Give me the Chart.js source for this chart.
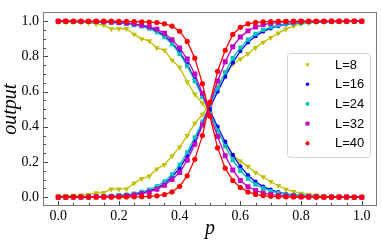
<!DOCTYPE html>
<html><head><meta charset="utf-8">
<script src="https://cdn.jsdelivr.net/npm/chart.js@4"></script>
<style>html,body{margin:0;padding:0;background:#fff;overflow:hidden}</style>
</head><body>
<canvas id="c" width="382" height="244"></canvas>
<script>
const pValues = [0,0.025,0.05,0.075,0.1,0.125,0.15,0.175,0.2,0.225,0.25,0.275,0.3,0.325,0.35,0.375,0.4,0.425,0.45,0.475,0.5,0.525,0.55,0.575,0.6,0.625,0.65,0.675,0.7,0.725,0.75,0.775,0.8,0.825,0.85,0.875,0.9,0.925,0.95,0.975,1.0];
const xTicks = [0,0.2,0.4,0.6,0.8,1.0];
const yTicks = [0,0.2,0.4,0.6,0.8,1.0];
const seriesLabels = ['L=8','L=16','L=24','L=32','L=40'];

const L8_dec = [0.995,0.995,0.994,0.993,0.990,0.985,0.978,0.956,0.958,0.957,0.925,0.900,0.888,0.848,0.835,0.778,0.738,0.655,0.585,0.535,0.470,0.375,0.300,0.240,0.205,0.175,0.140,0.115,0.088,0.065,0.045,0.032,0.022,0.015,0.011,0.008,0.006,0.005,0.004,0.003,0.003];
const L8_inc = [0.008,0.009,0.010,0.012,0.015,0.024,0.026,0.046,0.046,0.047,0.080,0.105,0.120,0.160,0.185,0.235,0.285,0.350,0.420,0.470,0.530,0.630,0.705,0.755,0.785,0.815,0.850,0.880,0.906,0.932,0.955,0.973,0.984,0.990,0.993,0.995,0.996,0.997,0.997,0.998,0.998];
const L16_dec = [0.999,0.999,0.999,0.998,0.998,0.997,0.995,0.993,0.990,0.987,0.982,0.975,0.963,0.945,0.918,0.878,0.825,0.755,0.670,0.580,0.490,0.400,0.315,0.240,0.175,0.125,0.088,0.060,0.042,0.028,0.019,0.013,0.009,0.006,0.004,0.003,0.002,0.002,0.001,0.001,0.001];
const L16_inc = [0.001,0.001,0.001,0.002,0.002,0.003,0.004,0.006,0.008,0.011,0.016,0.024,0.035,0.052,0.078,0.115,0.165,0.235,0.320,0.415,0.510,0.600,0.685,0.765,0.830,0.880,0.915,0.942,0.960,0.973,0.982,0.988,0.992,0.995,0.996,0.997,0.998,0.998,0.999,0.999,0.999];
const L24_dec = [0.999,0.999,0.998,0.998,0.997,0.996,0.995,0.993,0.990,0.985,0.978,0.970,0.958,0.938,0.910,0.870,0.815,0.745,0.660,0.570,0.475,0.380,0.290,0.210,0.150,0.105,0.072,0.050,0.034,0.023,0.016,0.011,0.008,0.006,0.004,0.003,0.002,0.002,0.001,0.001,0.001];
const L24_inc = [0.001,0.001,0.002,0.002,0.003,0.004,0.005,0.007,0.010,0.014,0.020,0.030,0.043,0.062,0.090,0.130,0.185,0.255,0.340,0.430,0.525,0.620,0.710,0.790,0.850,0.895,0.928,0.950,0.966,0.977,0.985,0.990,0.993,0.995,0.996,0.997,0.998,0.998,0.999,0.999,0.999];
const L32_dec = [1.000,1.000,0.999,0.999,0.999,0.998,0.997,0.995,0.993,0.990,0.985,0.978,0.968,0.955,0.932,0.895,0.848,0.785,0.700,0.590,0.465,0.345,0.235,0.155,0.095,0.060,0.038,0.024,0.015,0.010,0.007,0.005,0.003,0.002,0.002,0.001,0.001,0.001,0.001,0.000,0.000];
const L32_inc = [0.000,0.000,0.001,0.001,0.001,0.002,0.003,0.004,0.006,0.009,0.013,0.020,0.030,0.045,0.068,0.100,0.140,0.210,0.300,0.410,0.535,0.660,0.770,0.855,0.910,0.945,0.967,0.980,0.988,0.993,0.996,0.997,0.998,0.999,0.999,0.999,1.000,1.000,1.000,1.000,1.000];
const L40_dec = [1,1,1,1,1,1,1,1,0.999,0.999,0.998,0.997,0.995,0.992,0.985,0.972,0.943,0.885,0.790,0.645,0.460,0.280,0.165,0.095,0.055,0.030,0.016,0.009,0.005,0.003,0.002,0.001,0.001,0,0,0,0,0,0,0,0];
const L40_inc = [0,0,0,0,0,0,0,0,0.001,0.001,0.002,0.003,0.005,0.008,0.015,0.030,0.062,0.122,0.215,0.350,0.540,0.715,0.835,0.925,0.965,0.985,0.993,0.996,0.998,0.999,0.999,1,1,1,1,1,1,1,1,1,1];

const styles = [
  {color:'#bfbf00', pointStyle:'triangle', rotation:180, radius:3.3},
  {color:'#0000ff', pointStyle:'circle', rotation:0, radius:2.2},
  {color:'#00bfbf', pointStyle:'rect', rotation:0, radius:3.0},
  {color:'#bf00bf', pointStyle:'rect', rotation:0, radius:3.5},
  {color:'#ff0000', pointStyle:'circle', rotation:0, radius:2.6}
];
const seriesPairs = [[L8_dec,L8_inc],[L16_dec,L16_inc],[L24_dec,L24_inc],[L32_dec,L32_inc],[L40_dec,L40_inc]];

const datasets = [];
for (let i = seriesPairs.length - 1; i >= 0; i--) {
  const s = styles[i];
  seriesPairs[i].forEach((arr, k) => {
    datasets.push({
      label: seriesLabels[i] + (k ? ' inc' : ' dec'),
      data: pValues.map((p, j) => ({x: p, y: arr[j]})),
      borderColor: s.color, backgroundColor: s.color,
      borderWidth: 1.3, pointStyle: s.pointStyle, rotation: s.rotation,
      pointRadius: s.radius, pointBorderWidth: 0, pointBackgroundColor: s.color,
      tension: 0, fill: false
    });
  });
}

const framePlugin = {
  id: 'frame',
  afterDraw(chart) {
    const {ctx, chartArea: a, scales: {x, y}} = chart;
    ctx.save();
    ctx.strokeStyle = '#7a7a7a';
    ctx.lineWidth = 1;
    ctx.strokeRect(Math.round(a.left) + 0.5, Math.round(a.top) + 0.5, Math.round(a.right - a.left) - 1, Math.round(a.bottom - a.top) - 1);
    ctx.strokeStyle = '#444';
    const bottom = Math.round(a.bottom) - 0.5, left = Math.round(a.left) + 0.5;
    const drawX = (v, len) => { const px = Math.round(x.getPixelForValue(v)) + 0.5; ctx.beginPath(); ctx.moveTo(px, bottom); ctx.lineTo(px, bottom - len); ctx.stroke(); };
    const drawY = (v, len) => { const py = Math.round(y.getPixelForValue(v)) + 0.5; ctx.beginPath(); ctx.moveTo(left, py); ctx.lineTo(left + len, py); ctx.stroke(); };
    for (let i = 0; i < xTicks.length; i++) {
      drawX(xTicks[i], 4.5);
      if (i < xTicks.length - 1) for (let q = 1; q < 4; q++) drawX(xTicks[i] + (xTicks[i+1]-xTicks[i])*q/4, 2.5);
    }
    for (let i = 0; i < yTicks.length; i++) {
      drawY(yTicks[i], 4.5);
      if (i < yTicks.length - 1) for (let q = 1; q < 4; q++) drawY(yTicks[i] + (yTicks[i+1]-yTicks[i])*q/4, 2.5);
    }
    // axis titles
    ctx.fillStyle = '#000';
    ctx.font = 'italic 20px "Liberation Serif"';
    ctx.textAlign = 'center'; ctx.textBaseline = 'alphabetic';
    ctx.fillText('p', (a.left + a.right) / 2, 234);
    ctx.save();
    ctx.translate(16, (a.top + a.bottom) / 2);
    ctx.rotate(-Math.PI / 2);
    ctx.fillText('output', 0, 0);
    ctx.restore();
    // legend
    const bx = 287, by = 53, bw = 83, bh = 104;
    ctx.beginPath();
    ctx.roundRect(bx + 0.5, by + 0.5, bw, bh, 3);
    ctx.fillStyle = 'rgba(255,255,255,0.8)';
    ctx.fill();
    ctx.strokeStyle = '#d5d5d5';
    ctx.stroke();
    ctx.font = '13px "Liberation Sans"';
    ctx.textAlign = 'left'; ctx.textBaseline = 'middle';
    for (let i = 0; i < seriesLabels.length; i++) {
      const s = styles[i];
      const cy = 64.5 + i * 19.7;
      ctx.fillStyle = s.color; ctx.strokeStyle = s.color;
      Chart.helpers.drawPoint(ctx, {pointStyle: s.pointStyle, rotation: s.rotation, radius: s.radius * 0.8, borderWidth: 0}, 307.5, cy);
      ctx.fillStyle = '#000';
      ctx.fillText(seriesLabels[i], 335, cy + 0.5);
    }
    ctx.restore();
  }
};

new Chart(document.getElementById('c'), {
  type: 'line',
  data: {datasets},
  options: {
    responsive: false, animation: false, devicePixelRatio: 1,
    layout: {padding: {top: 4, right: 5, left: 0, bottom: 0}},
    plugins: {legend: {display: false}, tooltip: {enabled: false}},
    elements: {line: {borderCapStyle: 'round'}},
    scales: {
      x: {
        type: 'linear', min: -0.05, max: 1.05,
        afterBuildTicks: s => { s.ticks = xTicks.map(v => ({value: v})); },
        afterFit: s => { s.height = 38; },
        grid: {display: false, drawTicks: false}, border: {display: false},
        ticks: {color: '#000', padding: 2, maxRotation: 0, font: {family: 'Liberation Serif', size: 14}, callback: v => Number(v).toFixed(1)}
      },
      y: {
        type: 'linear', min: -0.05, max: 1.05,
        afterBuildTicks: s => { s.ticks = yTicks.map(v => ({value: v})); },
        afterFit: s => { s.width = 43; },
        grid: {display: false, drawTicks: false}, border: {display: false},
        ticks: {color: '#000', padding: 4, font: {family: 'Liberation Serif', size: 14}, callback: v => Number(v).toFixed(1)}
      }
    }
  },
  plugins: [framePlugin]
});
</script>
</body></html>
